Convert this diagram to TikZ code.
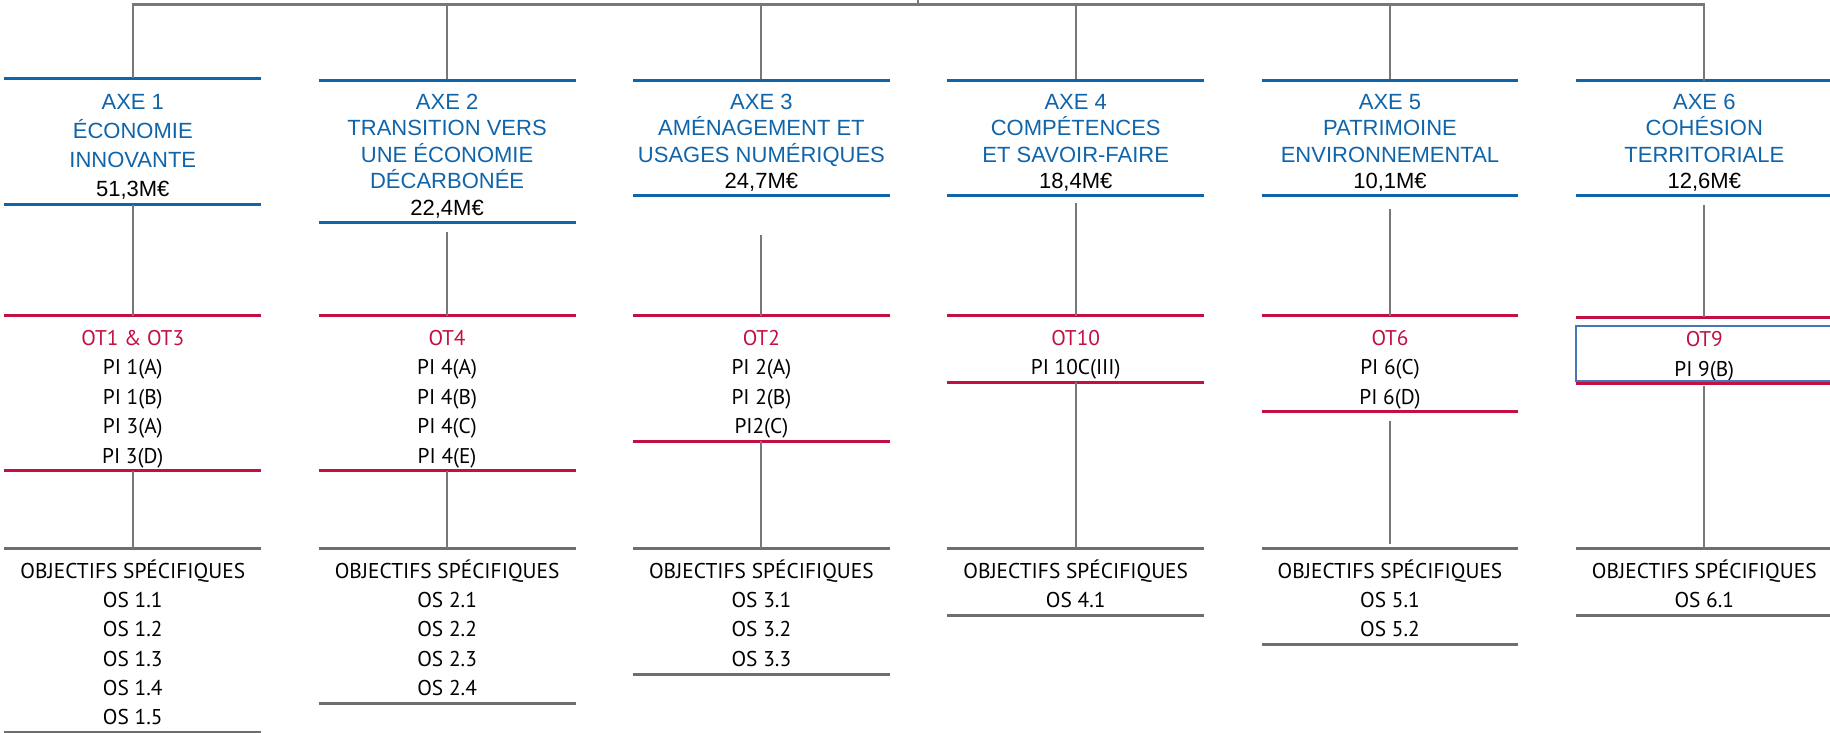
\documentclass[tikz,border=0pt]{standalone}
\usepackage{fontspec}
\setmainfont{PT Sans}
\newfontfamily\hfont{Liberation Sans}
\definecolor{axeblue}{RGB}{16,100,170}
\definecolor{otred}{RGB}{195,15,65}
\definecolor{conngrey}{RGB}{120,120,120}
\definecolor{osgrey}{RGB}{110,110,110}
\definecolor{boxblue}{RGB}{70,120,185}
\newcommand\Tst[1]{\rule{0pt}{#1pt}}
\newcommand\Bst[1]{\rule[-#1pt]{0pt}{#1pt}}
\begin{document}
\begin{tikzpicture}[x=1pt,y=-1pt,
  blk/.style={anchor=north, inner sep=0pt, minimum width=256.4pt, align=center},
  hdr/.style={blk, text=axeblue, font=\hfont\fontsize{22}{26.5}\selectfont},
  hdrone/.style={blk, text=axeblue, font=\hfont\fontsize{22}{29}\selectfont},
  otblk/.style={blk, text=black, font=\fontsize{21.3}{29.5}\selectfont},
  osblk/.style={blk, text=black, font=\fontsize{21.4}{29.2}\selectfont},
  blueline/.style={draw=axeblue, line width=3pt},
  redline/.style={draw=otred, line width=3pt},
  greyline/.style={draw=osgrey, line width=3pt},
  conn/.style={draw=conngrey, line width=2pt},
  bus/.style={draw=conngrey, line width=2.2pt, line join=miter},
  otbox/.style={draw=boxblue, line width=2.4pt}
]
\useasboundingbox (0,0) rectangle (1830,733);

% header blocks
\node[hdrone] (h1) at (132.8,78.5) {\Tst{30.9}AXE 1\\ÉCONOMIE\\INNOVANTE\\\textcolor{black}{51,3M€}\Bst{8.1}};
\node[hdr] (h2) at (447.1,81) {\Tst{27.9}AXE 2\\TRANSITION VERS\\UNE ÉCONOMIE\\DÉCARBONÉE\\\textcolor{black}{22,4M€}\Bst{7.1}};
\node[hdr] (h3) at (761.4,81) {\Tst{27.9}AXE 3\\AMÉNAGEMENT ET\\USAGES NUMÉRIQUES\\\textcolor{black}{24,7M€}\Bst{7.1}};
\node[hdr] (h4) at (1075.7,81) {\Tst{27.9}AXE 4\\COMPÉTENCES\\ET SAVOIR-FAIRE\\\textcolor{black}{18,4M€}\Bst{7.1}};
\node[hdr] (h5) at (1390,81) {\Tst{27.9}AXE 5\\PATRIMOINE\\ENVIRONNEMENTAL\\\textcolor{black}{10,1M€}\Bst{7.1}};
\node[hdr] (h6) at (1704.3,81) {\Tst{27.9}AXE 6\\COHÉSION\\TERRITORIALE\\\textcolor{black}{12,6M€}\Bst{7.1}};

% OT blocks
\node[otblk] (r1) at (132.8,315.5) {\Tst{29.35}\textcolor{otred}{OT1 \& OT3}\\PI 1(A)\\PI 1(B)\\PI 3(A)\\PI 3(D)\Bst{7.65}};
\node[otblk] (r2) at (447.1,315.5) {\Tst{29.35}\textcolor{otred}{OT4}\\PI 4(A)\\PI 4(B)\\PI 4(C)\\PI 4(E)\Bst{7.65}};
\node[otblk] (r3) at (761.4,315.5) {\Tst{29.35}\textcolor{otred}{OT2}\\PI 2(A)\\PI 2(B)\\PI2(C)\Bst{7.65}};
\node[otblk] (r4) at (1075.7,315.5) {\Tst{29.35}\textcolor{otred}{OT10}\\PI 10C(III)\Bst{7.65}};
\node[otblk] (r5) at (1390,315.5) {\Tst{29.35}\textcolor{otred}{OT6}\\PI 6(C)\\PI 6(D)\Bst{7.65}};
\node[otblk] (r6) at (1704.3,317) {\Tst{29.35}\textcolor{otred}{OT9}\\PI 9(B)\Bst{7.65}};

% OS blocks
\node[osblk] (s1) at (132.8,548) {\Tst{30.35}OBJECTIFS SPÉCIFIQUES\\OS 1.1\\OS 1.2\\OS 1.3\\OS 1.4\\OS 1.5\Bst{7.65}};
\node[osblk] (s2) at (447.1,548) {\Tst{30.35}OBJECTIFS SPÉCIFIQUES\\OS 2.1\\OS 2.2\\OS 2.3\\OS 2.4\Bst{7.65}};
\node[osblk] (s3) at (761.4,548) {\Tst{30.35}OBJECTIFS SPÉCIFIQUES\\OS 3.1\\OS 3.2\\OS 3.3\Bst{7.65}};
\node[osblk] (s4) at (1075.7,548) {\Tst{30.35}OBJECTIFS SPÉCIFIQUES\\OS 4.1\Bst{7.65}};
\node[osblk] (s5) at (1390,548) {\Tst{30.35}OBJECTIFS SPÉCIFIQUES\\OS 5.1\\OS 5.2\Bst{7.65}};
\node[osblk] (s6) at (1704.3,548) {\Tst{30.35}OBJECTIFS SPÉCIFIQUES\\OS 6.1\Bst{7.65}};

% block rules
\foreach \n in {h1,h2,h3,h4,h5,h6}{
  \draw[blueline] (\n.north west) -- (\n.north east);
  \draw[blueline] (\n.south west) -- (\n.south east);
}
\foreach \n in {r1,r2,r3,r4,r5,r6}{
  \draw[redline] (\n.north west) -- (\n.north east);
  \draw[redline] (\n.south west) -- (\n.south east);
}
\foreach \n in {s1,s2,s3,s4,s5,s6}{
  \draw[greyline] (\n.north west) -- (\n.north east);
  \draw[greyline] (\n.south west) -- (\n.south east);
}

% OT9 frame
\draw[otbox] ([yshift=-9pt]r6.north west) rectangle ([yshift=3pt,xshift=4pt]r6.south east);

% top bus
\coordinate (root) at (918,4.5);
\coordinate (rootup) at (918,0);
\draw[conn] (rootup) -- (root);
\draw[bus] (h1.north) -- (h1.north |- root) -- (h6.north |- root) -- (h6.north);
\foreach \n in {h2,h3,h4,h5}{
  \draw[conn, shorten >=2pt] (\n.north |- root) -- (\n.north);
}

% header -> OT
\draw[conn] (h1.south) -- (r1.north);
\draw[conn, shorten <=10pt] (h2.south) -- (r2.north);
\draw[conn, shorten <=39.5pt] (h3.south) -- (r3.north);
\draw[conn, shorten <=7.5pt] (h4.south) -- (r4.north);
\draw[conn, shorten <=13pt] (h5.south) -- (r5.north);
\draw[conn, shorten <=9pt] (h6.south) -- (r6.north);

% OT -> OS
\draw[conn] (r1.south) -- (s1.north);
\draw[conn] (r2.south) -- (s2.north);
\draw[conn] (r3.south) -- (s3.north);
\draw[conn] (r4.south) -- (s4.north);
\draw[conn, shorten <=9.5pt, shorten >=4pt] (r5.south) -- (s5.north);
\draw[conn, shorten <=2pt] (r6.south) -- (s6.north);
\end{tikzpicture}
\end{document}
